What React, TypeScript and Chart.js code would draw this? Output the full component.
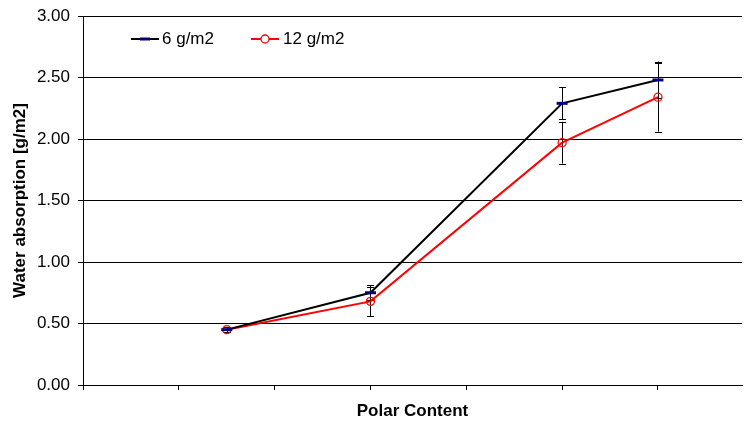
import React, { useEffect, useRef } from "react";
import { Chart, registerables } from "chart.js";

Chart.register(...registerables);

const xPositions = [1.5, 3, 5, 6];
const xTickValues = [0, 1, 2, 3, 4, 5, 6];
const series6 = [0.45, 0.75, 2.29, 2.48];
const err6 = [0.02, 0.06, 0.13, 0.15];
const series12 = [0.45, 0.68, 1.97, 2.34];
const err12 = [0.02, 0.12, 0.17, 0.28];
const seriesNames = ["6 g/m2", "12 g/m2"];
const yTitle = "Water absorption [g/m2]";
const xTitle = "Polar Content";

const FONT = "'Liberation Sans', Arial, sans-serif";

const errorBarPlugin = {
  id: "errorBars",
  beforeDatasetsDraw(chart: any) {
    const ctx = chart.ctx;
    const xs = chart.scales.x;
    const ys = chart.scales.y;
    const errs = [err6, err12];
    const vals = [series6, series12];
    ctx.save();
    ctx.strokeStyle = "#000";
    ctx.lineWidth = 1;
    errs.forEach((e, si) => {
      xPositions.forEach((xv, i) => {
        const px = Math.round(xs.getPixelForValue(xv)) + 0.5;
        const top = ys.getPixelForValue(vals[si][i] + e[i]);
        const bot = ys.getPixelForValue(vals[si][i] - e[i]);
        ctx.beginPath();
        ctx.moveTo(px, top);
        ctx.lineTo(px, bot);
        ctx.moveTo(px - 3.5, Math.round(top) + 0.5);
        ctx.lineTo(px + 3.5, Math.round(top) + 0.5);
        ctx.moveTo(px - 3.5, Math.round(bot) + 0.5);
        ctx.lineTo(px + 3.5, Math.round(bot) + 0.5);
        ctx.stroke();
      });
    });
    ctx.restore();
  },
};

const legendPlugin = {
  id: "customLegend",
  afterDraw(chart: any) {
    const ctx = chart.ctx;
    const { left, top } = chart.chartArea;
    const y = top + 23;
    ctx.save();
    ctx.font = `17px ${FONT}`;
    ctx.textBaseline = "middle";
    ctx.fillStyle = "#000";
    // item 1
    let x0 = left + 48;
    ctx.strokeStyle = "#000";
    ctx.lineWidth = 2;
    ctx.beginPath();
    ctx.moveTo(x0, y);
    ctx.lineTo(x0 + 28, y);
    ctx.stroke();
    ctx.strokeStyle = "#000080";
    ctx.lineWidth = 3;
    ctx.beginPath();
    ctx.moveTo(x0 + 9, y);
    ctx.lineTo(x0 + 19, y);
    ctx.stroke();
    ctx.fillText(seriesNames[0], x0 + 31, y);
    // item 2
    x0 = left + 168;
    ctx.strokeStyle = "#ff0000";
    ctx.lineWidth = 2;
    ctx.beginPath();
    ctx.moveTo(x0, y);
    ctx.lineTo(x0 + 28, y);
    ctx.stroke();
    ctx.fillStyle = "#fff";
    ctx.lineWidth = 1.3;
    ctx.beginPath();
    ctx.arc(x0 + 14, y, 4, 0, Math.PI * 2);
    ctx.fill();
    ctx.stroke();
    ctx.fillStyle = "#000";
    ctx.fillText(seriesNames[1], x0 + 32, y);
    ctx.restore();
  },
};

export default function App() {
  const ref = useRef<HTMLCanvasElement>(null);
  useEffect(() => {
    if (!ref.current) return;
    const chart = new Chart(ref.current, {
      type: "scatter",
      data: {
        datasets: [
          {
            label: seriesNames[0],
            data: xPositions.map((x, i) => ({ x, y: series6[i] })),
            showLine: true,
            borderColor: "#000",
            borderWidth: 2,
            pointStyle: "line",
            pointRadius: 5.5,
            pointBorderColor: "#000080",
            pointBorderWidth: 3,
            pointBackgroundColor: "#000080",
          },
          {
            label: seriesNames[1],
            data: xPositions.map((x, i) => ({ x, y: series12[i] })),
            showLine: true,
            borderColor: "#ff0000",
            borderWidth: 2,
            pointStyle: "circle",
            pointRadius: 4,
            pointBorderColor: "#ff0000",
            pointBorderWidth: 1.3,
            pointBackgroundColor: "rgba(255,255,255,0)",
          },
        ],
      },
      options: {
        responsive: false,
        animation: false,
        layout: { autoPadding: false, padding: { top: 16, right: 2, left: 0, bottom: 0 } },
        plugins: { legend: { display: false }, tooltip: { enabled: false } },
        scales: {
          x: {
            type: "linear",
            min: 0,
            max: 6.877,
            afterBuildTicks: (s: any) => {
              s.ticks = xTickValues.map((v) => ({ value: v }));
            },
            afterFit: (s: any) => {
              s.height = 39;
              s.paddingLeft = 0;
              s.paddingRight = 0;
            },
            ticks: { display: false },
            grid: {
              drawOnChartArea: false,
              drawTicks: true,
              tickLength: 5,
              color: "#000",
            },
            border: { color: "#000", width: 1 },
            title: {
              display: true,
              text: xTitle,
              color: "#000",
              font: { family: FONT, size: 17, weight: "bold" },
              padding: { top: 0, bottom: 2 },
            },
          },
          y: {
            min: 0,
            max: 3,
            ticks: {
              stepSize: 0.5,
              color: "#000",
              padding: 8,
              font: { family: FONT, size: 17 },
              callback: (v: any) => Number(v).toFixed(2),
            },
            afterFit: (s: any) => {
              s.width = 83;
              s.paddingTop = 0;
              s.paddingBottom = 0;
            },
            grid: { color: "#000", tickLength: 5, drawTicks: true },
            border: { color: "#000", width: 1 },
            title: {
              display: true,
              text: yTitle,
              color: "#000",
              font: { family: FONT, size: 17, weight: "bold" },
              padding: { top: 10, bottom: 0 },
            },
          },
        },
      },
      plugins: [errorBarPlugin, legendPlugin],
    });
    return () => chart.destroy();
  }, []);
  return (
    <div style={{ position: "absolute", left: 0, top: 0, width: 744, height: 424, background: "#fff" }}>
      <canvas ref={ref} width={744} height={424} />
    </div>
  );
}
